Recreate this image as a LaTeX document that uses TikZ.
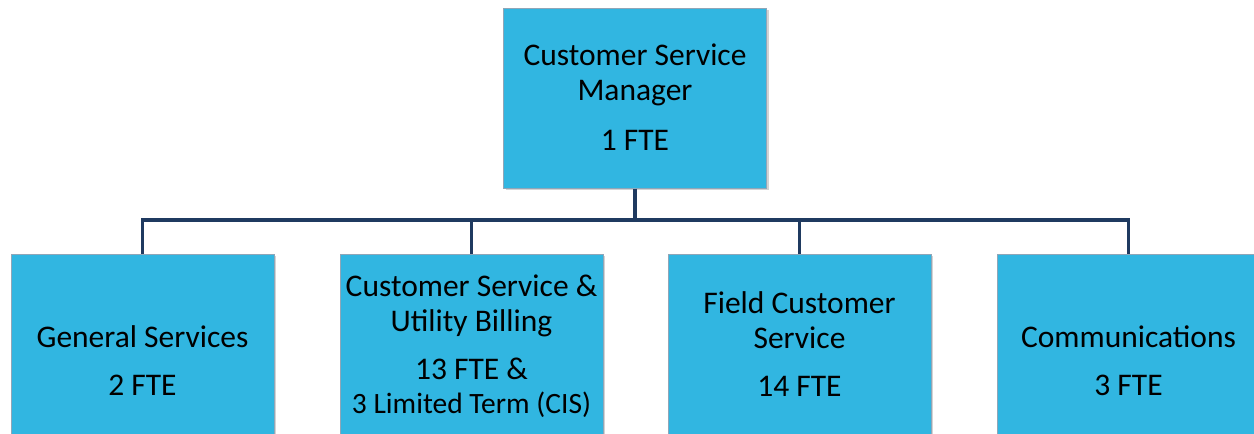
\documentclass[tikz,border=0pt]{standalone}
\usepackage{fontspec}
\setmainfont{Carlito}
\usetikzlibrary{shadows}
\definecolor{boxblue}{HTML}{31B6E1}
\definecolor{navy}{HTML}{1F3A60}
\definecolor{edgegray}{HTML}{8FA6B8}
\tikzset{
  orgbox/.style={draw=edgegray, line width=1pt, fill=boxblue, inner sep=0pt,
    minimum width=263pt, drop shadow={shadow xshift=2pt, shadow yshift=-2pt, opacity=0.35}},
  topbox/.style={orgbox, minimum height=180pt},
  lowbox/.style={orgbox, minimum height=200pt},
  txt/.style={anchor=base, inner sep=0pt, font=\fontsize{31.5}{36}\selectfont, text=black},
  smalltxt/.style={txt, font=\fontsize{29.5}{34}\selectfont},
  link/.style={draw=navy, line width=3.5pt}
}
\begin{document}
\begin{tikzpicture}[x=1pt,y=-1pt]
\useasboundingbox (0,0) rectangle (1254,434);
\clip (0,0) rectangle (1254,434);
% boxes
\node[topbox] (mgr) at (635,98) {};
\node[lowbox] (gen) at (142.5,354) {};
\node[lowbox] (cub) at (471.5,354) {};
\node[lowbox] (fcs) at (799.5,354) {};
\node[lowbox] (com) at (1128.5,354) {};
% connectors
\coordinate (bus) at (635,220);
\draw[link] (mgr.south) -- (bus);
\draw[link] (gen.north) |- (bus) -| (com.north);
\draw[link] (cub.north) -- (cub.north |- bus);
\draw[link] (fcs.north) -- (fcs.north |- bus);
% texts
\node[txt] (m1) at (635,65) {Customer Service};
\node[txt] (m2) at (635,100) {Manager};
\node[txt] (m3) at (635,150) {1 FTE};
\node[txt] (g1) at (142.5,347) {General Services};
\node[txt] (g2) at (142.5,395) {2 FTE};
\node[txt] (c1) at (471.5,296) {Customer Service \&};
\node[txt] (c2) at (471.5,331) {Utility Billing};
\node[txt] (c3) at (471.5,379) {13 FTE \&};
\node[smalltxt] (c4) at (471.5,413) {3 Limited Term (CIS)};
\node[txt] (f1) at (799.5,313) {Field Customer};
\node[txt] (f2) at (799.5,348) {Service};
\node[txt] (f3) at (799.5,396) {14 FTE};
\node[txt] (k1) at (1128.5,347) {Communications};
\node[txt] (k2) at (1128.5,395) {3 FTE};
\end{tikzpicture}
\end{document}
